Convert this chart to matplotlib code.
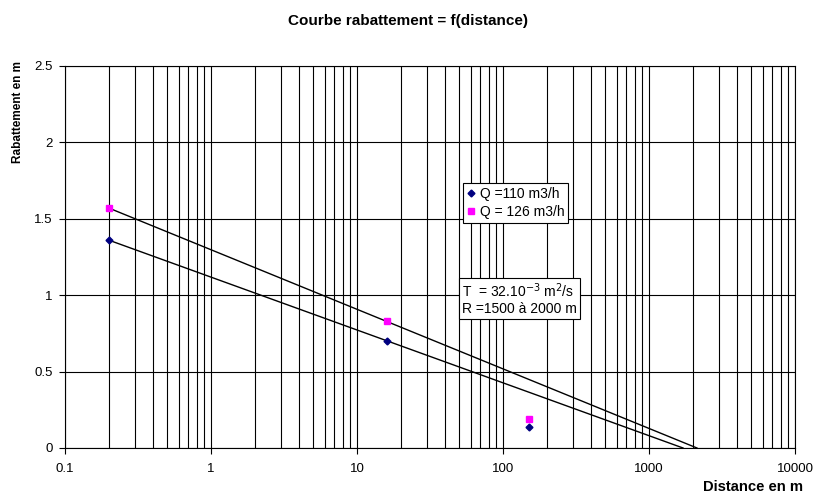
import numpy as np
import matplotlib.pyplot as plt
from matplotlib.ticker import LogLocator, FixedLocator, NullFormatter

plt.rcParams['font.family'] = ['Liberation Sans', 'DejaVu Sans']

# measured points
distance = [0.2, 16, 150]
rab_110 = [1.36, 0.70, 0.14]
rab_126 = [1.57, 0.83, 0.19]

# straight fitted lines drawn on the chart (start, intercept at zero)
line_x_110 = [0.2, 1710]
line_y_110 = [1.36, 0.0]
line_x_126 = [0.2, 2130]
line_y_126 = [1.57, 0.0]

x_ticks = [0.1, 1, 10, 100, 1000, 10000]
x_labels = ['0.1', '1', '10', '100', '1000', '10000']
y_ticks = [0, 0.5, 1, 1.5, 2, 2.5]
y_labels = ['0', '0.5', '1', '1.5', '2', '2.5']

fig = plt.figure(figsize=(8.15, 4.96), dpi=100)
ax = fig.add_axes([65 / 815, 48 / 496, 730 / 815, 382 / 496])

ax.plot(line_x_110, line_y_110, color='black', lw=1)
ax.plot(line_x_126, line_y_126, color='black', lw=1)
ax.plot(distance, rab_110, linestyle='none', marker='D', ms=3.5,
        color='#000080', label='Q =110 m3/h')
ax.plot(distance, rab_126, linestyle='none', marker='s', ms=5,
        color='#FF00FF', label='Q = 126 m3/h')

ax.set_xscale('log')
ax.set_xlim(0.1, 10000)
ax.set_ylim(0, 2.5)
ax.xaxis.set_major_locator(FixedLocator(x_ticks))
ax.set_xticklabels(x_labels)
ax.xaxis.set_minor_locator(LogLocator(base=10, subs=np.arange(2, 10)))
ax.xaxis.set_minor_formatter(NullFormatter())
ax.set_yticks(y_ticks)
ax.set_yticklabels(y_labels)

ax.grid(True, which='major', axis='both', color='black', lw=0.8)
ax.grid(True, which='minor', axis='x', color='black', lw=0.8)
ax.tick_params(axis='both', which='major', labelsize=9.5, length=4,
               direction='out', width=0.8)
ax.tick_params(axis='x', which='major', pad=7)
ax.tick_params(axis='y', which='major', pad=5)
ax.tick_params(axis='x', which='minor', length=0)
for s in ax.spines.values():
    s.set_linewidth(0.8)

fig.text(0.5, 1 - 21 / 496, 'Courbe rabattement = f(distance)',
         ha='center', va='center', fontsize=11, fontweight='bold')
fig.text(18 / 815, 1 - 112 / 496, 'Rabattement en m', rotation=90,
         ha='center', va='center', fontsize=8.5, fontweight='bold')
fig.text(1 - 12 / 815, 1 - 487 / 496, 'Distance en m', ha='right',
         va='center', fontsize=10.6, fontweight='bold')

leg = ax.legend(loc='upper left', bbox_to_anchor=((463 - 65) / 730, 1 - (183 - 66) / 382),
                fontsize=10, frameon=True, fancybox=False, framealpha=1,
                edgecolor='black', handlelength=0.6, handletextpad=0.3,
                borderpad=0.3, labelspacing=0.25, borderaxespad=0)
leg.get_frame().set_linewidth(0.8)

ax.text((462 - 65) / 730, 1 - (281 - 66) / 382,
        'T  = 32.10$^{-3}$ m$^2$/s\nR =1500 à 2000 m',
        transform=ax.transAxes, fontsize=10, va='top', ha='left',
        linespacing=1.2,
        bbox=dict(boxstyle='square,pad=0.2', fc='white', ec='black', lw=0.8))

fig.savefig('out.png', dpi=100)
